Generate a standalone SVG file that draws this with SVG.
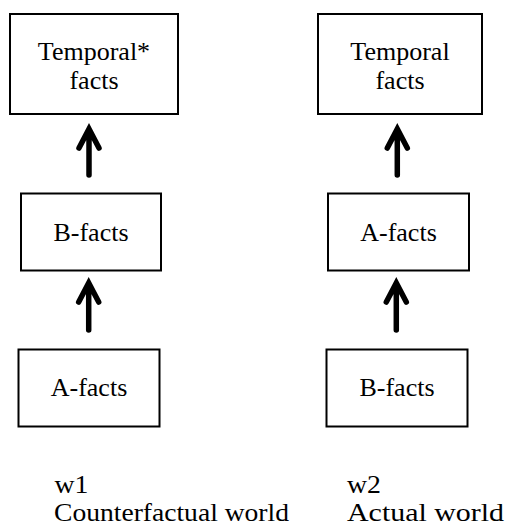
<svg xmlns="http://www.w3.org/2000/svg" width="508" height="526" viewBox="0 0 508 526">
<style>
.box{fill:#fff;stroke:#000;stroke-width:2}
.t{font-family:"Liberation Serif",serif;font-size:26px;fill:#000}
.c{text-anchor:middle}
.arr{fill:none;stroke:#000;stroke-width:5.5;stroke-linecap:round;stroke-linejoin:miter}
</style>
<rect width="508" height="526" fill="#fff"/>
<g id="l-temporal"><rect class="box" x="10" y="14" width="168" height="100"/><text class="t c" x="94" y="60">Temporal*</text><text class="t c" x="94" y="89">facts</text></g>
<g id="l-bfacts"><rect class="box" x="21" y="193.5" width="140" height="77"/><text class="t c" x="91" y="241">B-facts</text></g>
<g id="l-afacts"><rect class="box" x="18.5" y="349.5" width="141" height="77"/><text class="t c" x="89" y="396">A-facts</text></g>
<g id="r-temporal"><rect class="box" x="318" y="14" width="164" height="100"/><text class="t c" x="400" y="60">Temporal</text><text class="t c" x="400" y="89">facts</text></g>
<g id="r-afacts"><rect class="box" x="328" y="193.5" width="141" height="77"/><text class="t c" x="398.5" y="241">A-facts</text></g>
<g id="r-bfacts"><rect class="box" x="326.5" y="349.5" width="141" height="77"/><text class="t c" x="397" y="396">B-facts</text></g>
<g id="connectors">
<path class="arr" d="M89,175 V130 M79,148 L89,129 L99,148"/>
<path class="arr" d="M88.7,330 V284 M78.7,302 L88.7,283 L98.7,302"/>
<path class="arr" d="M397.3,175 V130 M387.3,148 L397.3,129 L407.3,148"/>
<path class="arr" d="M396.3,330 V284 M386.3,302 L396.3,283 L406.3,302"/>
</g>
<g id="labels">
<text class="t" x="54.5" y="493" textLength="34" lengthAdjust="spacingAndGlyphs">w1</text><text class="t" x="54" y="521" textLength="235" lengthAdjust="spacingAndGlyphs">Counterfactual world</text>
<text class="t" x="347" y="493" textLength="34" lengthAdjust="spacingAndGlyphs">w2</text><text class="t" x="347" y="521" textLength="157" lengthAdjust="spacingAndGlyphs">Actual world</text>
</g>
</svg>
